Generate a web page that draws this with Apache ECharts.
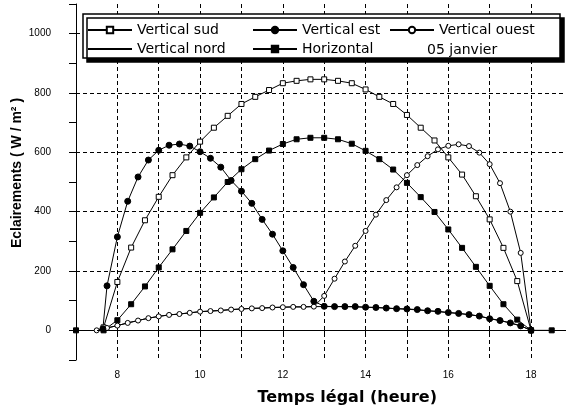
<!DOCTYPE html>
<html><head><meta charset="utf-8">
<script src="https://cdn.jsdelivr.net/npm/echarts@6/dist/echarts.min.js"></script>
<style>html,body{margin:0;padding:0;background:#fff}#c{width:566px;height:405px}</style>
</head><body><div id="c"></div>
<script>
// ---- data ----
const t15 = [7.5,7.75,8,8.25,8.5,8.75,9,9.25,9.5,9.75,10,10.25,10.5,10.75,11,11.25,11.5,11.75,12,12.25,12.5,12.75,13,13.25,13.5,13.75,14,14.25,14.5,14.75,15,15.25,15.5,15.75,16,16.25,16.5,16.75,17,17.25,17.5,17.75,18];
const estT = [7.65,7.75,8,8.25,8.5,8.75,9,9.25,9.5,9.75,10,10.25,10.5,10.75,11,11.25,11.5,11.75,12,12.25,12.5,12.75,13,13.25,13.5,13.75,14,14.25,14.5,14.75,15,15.25,15.5,15.75,16,16.25,16.5,16.75,17,17.25,17.5,17.75,18];
const t20 = [7.667,8,8.333,8.667,9,9.333,9.667,10,10.333,10.667,11,11.333,11.667,12,12.333,12.667,13,13.333,13.667,14,14.333,14.667,15,15.333,15.667,16,16.333,16.667,17,17.333,17.667,18];
const horizT = [7,7.333,7.667,8,8.333,8.667,9,9.333,9.667,10,10.333,10.667,11,11.333,11.667,12,12.333,12.667,13,13.333,13.667,14,14.333,14.667,15,15.333,15.667,16,16.333,16.667,17,17.333,17.667,18,18.5];

const sudV   = [10,163,279,371,450,523,583,636,683,723,763,787,810,833,841,846,846,841,833,812,787,763,726,683,640,583,525,452,374,278,166,0];
const estV   = [5,150,315,435,517,574,607,624,628,621,602,580,550,505,469,428,374,324,268,212,154,98,81,80,80,80,78,77,75,73,72,70,66,64,60,57,53,48,39,33,25,15,0];
const ouestV = [0,8,16,25,33,41,47,52,55,59,63,65,67,70,72,74,75,77,78,79,79,80,116,174,232,285,335,390,439,482,523,557,587,610,622,627,621,599,560,496,400,261,0];
const nordV  = [0,8,16,25,33,41,47,52,55,59,63,65,67,70,72,74,75,77,78,79,79,80,80,80,80,79,78,77,75,73,71,69,66,63,60,57,53,48,40,33,25,15,0];
const horizV = [0,'-',0,34,88,148,212,273,335,396,448,500,543,577,606,628,644,649,649,644,629,605,577,542,497,449,399,340,278,214,150,88,36,0,0];

const xTickLabels = [8,10,12,14,16,18];
const yTickLabels = [0,200,400,600,800,1000];
const yGrid = [0,200,400,600,800,1000];
const names = ['Vertical sud','Vertical est','Vertical ouest','Vertical nord','Horizontal'];
const dateLabel = '05 janvier';

function pairs(t, v){ return t.map((x,i)=>[x, v[i]]); }

const chart = echarts.init(document.getElementById('c'), null, {renderer:'canvas'});
const FONT = 'Liberation Sans, Arial, sans-serif';
const LFONT = 'DejaVu Sans, sans-serif';

function legendAt(name, left, top, extra){
  return Object.assign({
    data:[name], left:left, top:top, padding:0, itemWidth:44, itemHeight:8, itemGap:0, z:60,
    textStyle:{fontFamily:LFONT, fontSize:14, color:'#000', padding:[0,0,0,0]},
    selectedMode:false
  }, extra || {});
}

const base = {type:'line', animation:false, lineStyle:{color:'#000', width:1}, z:2};

chart.setOption({
  animation:false,
  backgroundColor:'#fff',
  textStyle:{fontFamily:FONT},
  grid:{left:76, right:-6.4, top:4, bottom:45, containLabel:false, outerBoundsMode:'none'},
  xAxis:{
    type:'value', min:7, max:19, interval:1,
    name:'Temps légal (heure)', nameLocation:'middle', nameGap:30, nameMoveOverlap:false,
    nameTextStyle:{fontFamily:'DejaVu Sans, sans-serif', fontWeight:'bold', fontSize:16, color:'#000', padding:[0,0,0,46]},
    axisLine:{lineStyle:{color:'#000', width:1}},
    axisTick:{show:true, length:4, lineStyle:{color:'#000'}},
    axisLabel:{color:'#000', fontSize:10, margin:10, fontFamily:FONT,
      formatter:v=> xTickLabels.indexOf(v)>=0 ? String(v) : ''},
    splitLine:{show:true, lineStyle:{color:'#000', type:[4,3], width:1}}
  },
  yAxis:{
    type:'value', min:-100, max:1100, interval:100,
    name:'Eclairements ( W / m² )', nameLocation:'middle', nameGap:52, nameMoveOverlap:false,
    nameTextStyle:{fontFamily:FONT, fontWeight:'bold', fontSize:14, color:'#000', padding:[0,0,0,18]},
    axisLine:{show:true, lineStyle:{color:'#000', width:1}},
    axisTick:{show:true, length:7, lineStyle:{color:'#000'}},
    axisLabel:{color:'#000', fontSize:10, margin:25, fontFamily:FONT,
      formatter:v=> yTickLabels.indexOf(v)>=0 ? String(v) : ''},
    splitLine:{show:false}
  },
  legend:[
    legendAt(names[0], 87, 23),
    legendAt(names[1], 252, 23),
    legendAt(names[2], 389, 23),
    legendAt(names[3], 87, 42, {itemStyle:{color:'rgba(0,0,0,0)', borderWidth:0, opacity:0}}),
    legendAt(names[4], 252, 42)
  ],
  graphic:[
    {type:'rect', z:50, shape:{x:83, y:14, width:477, height:44},
     style:{fill:'#fff', stroke:'#000', lineWidth:1.5, shadowColor:'#000', shadowOffsetX:4, shadowOffsetY:4, shadowBlur:0}},
    {type:'text', z:60, x:427, y:50, style:{text:dateLabel, font:'14px DejaVu Sans', fill:'#000', textVerticalAlign:'middle'}}
  ],
  series:[
    Object.assign({}, base, {name:names[3], data:pairs(t15, nordV), symbol:'none',
      itemStyle:{color:'#000'},
      markLine:{silent:true, symbol:['none','none'], label:{show:false},
        lineStyle:{color:'#000', type:[4,3], width:1}, animation:false,
        data:yGrid.map(y=>({yAxis:y}))}}),
    Object.assign({}, base, {name:names[0], data:pairs(t20, sudV), symbol:'rect', symbolSize:5,
      itemStyle:{color:'#fff', borderColor:'#000', borderWidth:1}}),
    Object.assign({}, base, {name:names[4], data:pairs(horizT, horizV), symbol:'rect', symbolSize:5, connectNulls:false,
      itemStyle:{color:'#000', borderColor:'#000', borderWidth:1}}),
    Object.assign({}, base, {name:names[2], data:pairs(t15, ouestV), symbol:'circle', symbolSize:5,
      itemStyle:{color:'#fff', borderColor:'#000', borderWidth:1}}),
    Object.assign({}, base, {name:names[1], data:pairs(estT, estV), symbol:'circle', symbolSize:6,
      itemStyle:{color:'#000', borderColor:'#000', borderWidth:1}})
  ]
});
</script></body></html>
